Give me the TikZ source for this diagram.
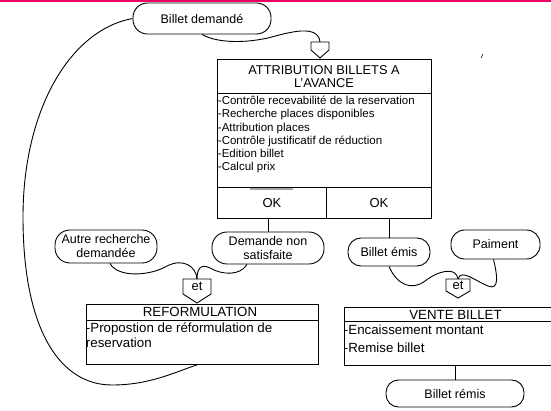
\documentclass[tikz,border=0pt]{standalone}
\usepackage{fontspec}
\setmainfont{Liberation Sans}
\usetikzlibrary{calc}
\definecolor{topline}{RGB}{240,0,100}
\begin{document}
\begin{tikzpicture}[x=1pt,y=-1pt,line width=0.9pt,
  ev/.style={draw,inner sep=0pt,align=center,font=\fontsize{12.5}{14}\selectfont},
  box/.style={draw,inner sep=0pt,anchor=north west},
  ttl/.style={anchor=base,inner sep=0pt,font=\fontsize{13.3}{14}\selectfont},
  lst/.style={anchor=base west,inner sep=0pt,font=\fontsize{11.5}{13}\selectfont},
  bodytxt/.style={anchor=base west,inner sep=0pt,font=\fontsize{13.3}{16}\selectfont},
  wire/.style={draw,line width=0.9pt},
  andgate/.style={draw,line width=0.9pt,fill=white}
]
\path[use as bounding box,clip] (0,0) rectangle (551,411);
\fill[topline] (0,0) rectangle (551,2);

% event nodes
\node[ev,rounded corners=14.5pt,minimum width=138pt,minimum height=31pt] (bd) at (202,18.5) {Billet demandé};
\node[ev,rounded corners=15pt,minimum width=102pt,minimum height=33pt] (arq) at (106,246.5) {Autre recherche\\demandée};
\node[ev,rounded corners=15pt,minimum width=112pt,minimum height=32pt] (dns) at (268,248) {Demande non\\satisfaite};
\node[ev,rounded corners=13pt,minimum width=82pt,minimum height=28pt] (be) at (389,252) {Billet émis};
\node[ev,rounded corners=13.5pt,minimum width=89pt,minimum height=29pt] (pa) at (495.5,244.5) {Paiment};
\node[ev,rounded corners=12.5pt,minimum width=138pt,minimum height=27pt] (br) at (455,393.5) {Billet rémis};

% ATTRIBUTION box
\node[box,minimum width=214pt,minimum height=34pt] (attT) at (217,59) {};
\node[box,minimum width=214pt,minimum height=94pt] (attB) at (217,93) {};
\node[box,minimum width=109pt,minimum height=31pt,font=\fontsize{13}{14}\selectfont] (okL) at (217,187) {OK};
\node[box,minimum width=105pt,minimum height=31pt,font=\fontsize{13}{14}\selectfont] (okR) at (326,187) {OK};
\draw[gray!70,line width=1.2pt] (250,189) -- (293,189);
\node[ttl,font=\fontsize{12.8}{14}\selectfont] (attT1) at (324,74.7) {ATTRIBUTION BILLETS A};
\node[ttl,font=\fontsize{12.8}{14}\selectfont] (attT2) at (324,88) {L'AVANCE};
\node[lst] (l1) at (217.5,104.8) {-Contrôle recevabilité de la reservation};
\node[lst] (l2) at (217.5,118) {-Recherche places disponibles};
\node[lst] (l3) at (217.5,131.2) {-Attribution places};
\node[lst] (l4) at (217.5,144.4) {-Contrôle justificatif de réduction};
\node[lst] (l5) at (217.5,157.6) {-Edition billet};
\node[lst] (l6) at (217.5,170.8) {-Calcul prix};

% REFORMULATION box
\node[box,minimum width=232pt,minimum height=16pt] (refT) at (86,304) {};
\node[box,minimum width=232pt,minimum height=44pt] (refB) at (86,320) {};
\node[ttl] (refTt) at (200,316.8) {REFORMULATION};
\node[bodytxt] (r1) at (85.5,332.5) {-Propostion de réformulation de};
\node[bodytxt] (r2) at (85.5,347.5) {reservation};

% VENTE BILLET box
\node[box,minimum width=223pt,minimum height=14pt] (venT) at (344,307) {};
\node[box,minimum width=223pt,minimum height=44pt] (venB) at (344,321) {};
\node[ttl] (venTt) at (455.5,319.3) {VENTE BILLET};
\node[bodytxt] (v1) at (343.5,334.5) {-Encaissement montant};
\node[bodytxt] (v2) at (343.5,352.5) {-Remise billet};

% and gates
\coordinate (and0) at (320,42);
\coordinate (and1) at (197,279);
\coordinate (and2) at (458,279);
\draw[andgate] (and0) -- ++(9,0) -- ++(0,8) -- ++(-9,8) -- ++(-9,-8) -- ++(0,-8) -- cycle;
\draw[andgate] (and1) -- ++(14,0) -- ++(0,15) -- ++(-14,9) -- ++(-14,-9) -- ++(0,-15) -- cycle;
\draw[andgate] (and2) -- ++(12,0) -- ++(0,12) -- ++(-12,7) -- ++(-12,-7) -- ++(0,-12) -- cycle;
\node[anchor=base,inner sep=0pt,font=\fontsize{13}{14}\selectfont] (et1) at (197,290.5) {et};
\node[anchor=base,inner sep=0pt,font=\fontsize{13}{14}\selectfont] (et2) at (458,289.5) {et};

% connectors
\draw[wire] (bd.south) .. controls (215,42) and (240,44) .. (268,38)
  .. controls (290,32) and (318,24) .. (and0);
\draw[wire] (bd.west) .. controls (70,30) and (23,110) .. (23,217)
  .. controls (23,330) and (60,385) .. (112,385)
  .. controls (150,385) and (175,372) .. (refB.south -| and1);
\draw[wire] ([xshift=4pt]arq.south) .. controls (118,278) and (150,276) .. (167,266)
  .. controls (183,258) and (196,266) .. (and1);
\draw[wire] ([xshift=-21pt]dns.south) .. controls (240,276) and (222,275) .. (210,268)
  .. controls (200,263) and (197,270) .. (and1);
\draw[wire] (be.south) .. controls (397,285) and (412,291) .. (425,281)
  .. controls (438,271) and (456,266) .. (and2);
\draw[wire] ([xshift=-2pt]pa.south) .. controls (497,274) and (500,291) .. (488,286)
  .. controls (477,282) and (461,268) .. (and2);
\draw[wire] (okL.south -| dns.north) .. controls (267.5,225) .. (dns.north);
\draw[wire] (okR.south -| be.north) .. controls (388.5,228) .. (be.north);
\draw[wire] (venB.south -| br.north) -- (br.north);
\draw[line width=0.6pt] (481,58) -- (483,54);
\end{tikzpicture}
\end{document}
